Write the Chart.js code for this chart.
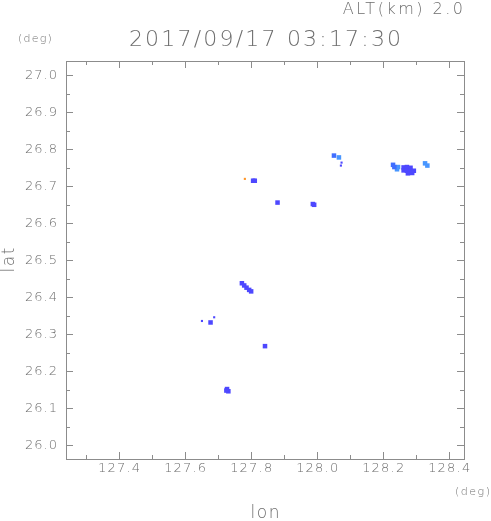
<!DOCTYPE html>
<html>
<head>
<meta charset="utf-8">
<script src="https://cdn.jsdelivr.net/npm/chart.js@4"></script>
<style>
  html, body { margin: 0; padding: 0; background: #fff; }
  #wrap { width: 491px; height: 521px; }
</style>
</head>
<body>
<div id="wrap"><canvas id="c"></canvas></div>
<script>
// echo cells, grouped by intensity (lon / lat in deg)
const lonHeavy = [128.262, 128.272, 128.283, 128.262, 128.272, 128.283, 128.293, 128.275, 128.288,
                  127.806, 127.811, 127.880, 127.987, 127.991,
                  127.772, 127.779, 127.786, 127.794, 127.800,
                  127.677, 127.842, 127.727, 127.731, 127.725];
const latHeavy = [26.751, 26.752, 26.750, 26.743, 26.742, 26.741, 26.742, 26.735, 26.736,
                  26.715, 26.715, 26.656, 26.652, 26.650,
                  26.438, 26.432, 26.426, 26.420, 26.416,
                  26.332, 26.268, 26.152, 26.146, 26.148];
const lonMid = [128.230, 128.234, 128.051];
const latMid = [26.758, 26.752, 26.783];
const lonLight = [128.242, 128.245, 128.327, 128.334, 128.066];
const latLight = [26.746, 26.752, 26.762, 26.756, 26.778];
const lonSpeck = [128.074, 128.072, 127.651, 127.688];
const latSpeck = [26.764, 26.756, 26.336, 26.346];
const lonOrange = [127.781];
const latOrange = [26.720];

const lonTicks = [127.4, 127.6, 127.8, 128.0, 128.2, 128.4];
const latTicks = [26.0, 26.1, 26.2, 26.3, 26.4, 26.5, 26.6, 26.7, 26.8, 26.9, 27.0];

const pts = (xs, ys) => xs.map((x, i) => ({ x: x, y: ys[i] }));

const FONT = '"DejaVu Sans", sans-serif';
const GREY = '#6e6e6e';

function text(ctx, str, x, y, size, align, spacing) {
    ctx.font = '200 ' + size + 'px ' + FONT;
    ctx.letterSpacing = spacing + 'px';
    ctx.textAlign = align;
    // letterSpacing adds a trailing gap; shift to keep alignment honest
    let dx = 0;
    if (align === 'center') dx = spacing / 2;
    if (align === 'right') dx = spacing;
    ctx.fillText(str, x + dx, y);
}

// frame, inward ticks and all the text
const frame = {
    id: 'frame',
    afterDraw(chart) {
        const { ctx, chartArea: a, scales } = chart;
        const xs = scales.x, ys = scales.y;
        ctx.save();
        ctx.strokeStyle = '#8c8c8c';
        ctx.lineWidth = 1;
        ctx.strokeRect(Math.round(a.left) + 0.5, Math.round(a.top) + 0.5,
            Math.round(a.right - a.left), Math.round(a.bottom - a.top));

        ctx.beginPath();
        // x ticks (major + minor)
        for (let v = 127.3; v < 128.45; v += 0.1) {
            const major = lonTicks.some(t => Math.abs(t - v) < 1e-6);
            const px = Math.round(xs.getPixelForValue(v)) + 0.5;
            const len = major ? 7 : 4;
            ctx.moveTo(px, a.bottom); ctx.lineTo(px, a.bottom - len);
            ctx.moveTo(px, a.top); ctx.lineTo(px, a.top + len);
        }
        // y ticks (major + minor)
        for (let v = 26.0; v < 27.04; v += 0.05) {
            const major = latTicks.some(t => Math.abs(t - v) < 1e-6);
            const py = Math.round(ys.getPixelForValue(v)) + 0.5;
            const len = major ? 7 : 4;
            ctx.moveTo(a.left, py); ctx.lineTo(a.left + len, py);
            ctx.moveTo(a.right, py); ctx.lineTo(a.right - len, py);
        }
        ctx.stroke();

        ctx.fillStyle = GREY;
        ctx.textBaseline = 'middle';
        lonTicks.forEach(t => text(ctx, t.toFixed(1), xs.getPixelForValue(t), a.bottom + 10, 13, 'center', 1.2));
        latTicks.forEach(t => text(ctx, t.toFixed(1), 57, ys.getPixelForValue(t), 13, 'right', 1));

        text(ctx, '(deg)', 18, 39, 11, 'left', 1.2);
        text(ctx, '(deg)', 490, 492, 11, 'right', 1.5);
        text(ctx, 'ALT(km) 2.0', 463, 10, 16, 'right', 2.5);
        text(ctx, '2017/09/17 03:17:30', 265, 40, 22, 'center', 2.2);
        text(ctx, 'lon', 265, 514, 17, 'center', 1.5);

        ctx.translate(10, 260);
        ctx.rotate(-Math.PI / 2);
        text(ctx, 'lat', 0, 0, 17, 'center', 1.5);
        ctx.restore();
    }
};

const cell = (data, color, r) => ({
    data: data,
    backgroundColor: color,
    borderWidth: 0,
    pointStyle: 'rect',
    pointRadius: r,
    pointHoverRadius: r
});

new Chart(document.getElementById('c'), {
    type: 'scatter',
    data: {
        datasets: [
            cell(pts(lonHeavy, latHeavy), 'rgb(78, 72, 255)', 3.2),
            cell(pts(lonMid, latMid), 'rgb(64, 110, 255)', 3.2),
            cell(pts(lonLight, latLight), 'rgb(72, 150, 255)', 3.2),
            cell(pts(lonSpeck, latSpeck), 'rgb(78, 72, 255)', 1.5),
            cell(pts(lonOrange, latOrange), 'rgb(255, 150, 40)', 1.5)
        ]
    },
    options: {
        responsive: true,
        maintainAspectRatio: false,
        animation: false,
        layout: { padding: { left: 66, right: 27, top: 61, bottom: 62 } },
        plugins: { legend: { display: false }, tooltip: { enabled: false } },
        scales: {
            x: { type: 'linear', min: 127.239, max: 128.445, display: false },
            y: { type: 'linear', min: 25.963, max: 27.0386, display: false }
        }
    },
    plugins: [frame]
});
</script>
</body>
</html>
